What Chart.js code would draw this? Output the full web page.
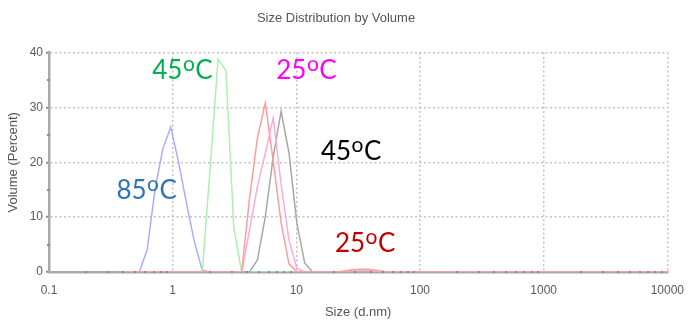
<!DOCTYPE html>
<html>
<head>
<meta charset="utf-8">
<title>Size Distribution by Volume</title>
<script src="https://cdn.jsdelivr.net/npm/chart.js@4/dist/chart.umd.min.js"></script>
<style>
  html, body { margin: 0; padding: 0; background: #fff; }
  #chart { display: block; }
</style>
</head>
<body>
<canvas id="chart" width="695" height="321"></canvas>
<script>
// size bins (d.nm), 70 log-spaced classes
var sizes = [
  0.4, 0.4632, 0.5365, 0.6213, 0.7195, 0.8332, 0.9649, 1.117, 1.294, 1.499,
  1.736, 2.01, 2.328, 2.696, 3.122, 3.615, 4.187, 4.849, 5.615, 6.503,
  7.531, 8.721, 10.1, 11.7, 13.54, 15.69, 18.17, 21.04, 24.36, 28.21,
  32.67, 37.84, 43.82, 50.75, 58.77, 68.06, 78.82, 91.28, 105.7, 122.4,
  141.8, 164.2, 190.1, 220.2, 255, 295.3, 342, 396.1, 458.7, 531.2,
  615.1, 712.4, 825, 955.4, 1106, 1281, 1484, 1718, 1990, 2305,
  2669, 3091, 3580, 4145, 4801, 5560, 6439, 7456, 8635, 10000
];

// volume (%) per bin
var red25 = [
  0, 0, 0, 0, 0, 0, 0, 0, 0, 0,
  0, 0, 0, 0, 0, 0, 13.5, 24.5, 30.8, 20.2,
  9, 1.5, 0, 0, 0, 0, 0, 0, 0.2, 0.4,
  0.5, 0.5, 0.3, 0.1, 0, 0, 0, 0, 0, 0,
  0, 0, 0, 0, 0, 0, 0, 0, 0, 0,
  0, 0, 0, 0, 0, 0, 0, 0, 0, 0,
  0, 0, 0, 0, 0, 0, 0, 0, 0, 0
];
var pink25 = [
  0, 0, 0, 0, 0, 0, 0, 0, 0, 0,
  0, 0, 0, 0, 0, 0, 7.7, 15.6, 21.7, 28.1,
  16, 5.8, 0.7, 0, 0, 0, 0, 0, 0.1, 0.3,
  0.4, 0.3, 0.2, 0.1, 0, 0, 0, 0, 0, 0,
  0, 0, 0, 0, 0, 0, 0, 0, 0, 0,
  0, 0, 0, 0, 0, 0, 0, 0, 0, 0,
  0, 0, 0, 0, 0, 0, 0, 0, 0, 0
];
var gray45 = [
  0, 0, 0, 0, 0, 0, 0, 0, 0, 0,
  0, 0, 0, 0, 0, 0, 0, 2.2, 10.1, 21,
  29.3, 21.7, 8.9, 1.6, 0, 0, 0, 0, 0, 0,
  0, 0, 0, 0, 0, 0, 0, 0, 0, 0,
  0, 0, 0, 0, 0, 0, 0, 0, 0, 0,
  0, 0, 0, 0, 0, 0, 0, 0, 0, 0,
  0, 0, 0, 0, 0, 0, 0, 0, 0, 0
];
var green45 = [
  0, 0, 0, 0, 0, 0, 0, 0, 0, 0,
  0, 19, 38.8, 36.7, 8, 0, 0, 0, 0, 0,
  0, 0, 0, 0, 0, 0, 0, 0, 0, 0.1,
  0.2, 0.2, 0.1, 0, 0, 0, 0, 0, 0, 0,
  0, 0, 0, 0, 0, 0, 0, 0, 0, 0,
  0, 0, 0, 0, 0, 0, 0, 0, 0, 0,
  0, 0, 0, 0, 0, 0, 0, 0, 0, 0
];
var blue85 = [
  0, 0, 0, 4, 15, 22.5, 26.4, 20, 12.5, 5.5,
  0.3, 0, 0, 0, 0, 0, 0, 0, 0, 0,
  0, 0, 0, 0, 0, 0, 0, 0, 0, 0,
  0, 0, 0, 0, 0, 0, 0, 0, 0, 0,
  0, 0, 0, 0, 0, 0, 0, 0, 0, 0,
  0, 0, 0, 0, 0, 0, 0, 0, 0, 0,
  0, 0, 0, 0, 0, 0, 0, 0, 0, 0
];

var xTicks = [0.1, 1, 10, 100, 1000, 10000];
var yTicks = [0, 10, 20, 30, 40];

// temperature labels: text, anchor (size, volume) at left/baseline, colour
var tempLabels = [
  { num: '45', x: 0.684, y: 35.1, color: '#00b050' },
  { num: '25', x: 6.88, y: 35.1, color: '#ff00ff' },
  { num: '45', x: 15.8, y: 20.5, color: '#000000' },
  { num: '85', x: 0.351, y: 13.3, color: '#2e75b6' },
  { num: '25', x: 20.5, y: 3.65, color: '#c00000' }
];

function toPoints(vals) {
  var pts = [];
  for (var i = 0; i < sizes.length; i++) {
    pts.push({ x: sizes[i], y: vals[i] });
  }
  return pts;
}

function line(vals, color) {
  return {
    data: toPoints(vals),
    borderColor: color,
    backgroundColor: color,
    borderWidth: 1.5,
    pointRadius: 0,
    tension: 0,
    fill: false
  };
}

// small minor tick marks on both axes
var minorTicks = {
  id: 'minorTicks',
  afterDatasetsDraw: function(chart) {
    var ctx = chart.ctx;
    var xs = chart.scales.x, ys = chart.scales.y;
    var area = chart.chartArea;
    ctx.save();
    ctx.fillStyle = '#8c8c8c';
    for (var d = 0; d < xTicks.length - 1; d++) {
      for (var k = 2; k <= 9; k++) {
        var px = xs.getPixelForValue(xTicks[d] * k);
        ctx.fillRect(Math.round(px) - 1, area.bottom - 1, 2, 2);
      }
    }
    for (var j = 0; j < yTicks.length - 1; j++) {
      var py = ys.getPixelForValue((yTicks[j] + yTicks[j + 1]) / 2);
      ctx.fillRect(area.left - 2, Math.round(py) - 1, 3, 2);
    }
    ctx.restore();
  }
};

// "45oC" style labels with raised o
var tempText = {
  id: 'tempText',
  afterDatasetsDraw: function(chart) {
    var ctx = chart.ctx;
    var xs = chart.scales.x, ys = chart.scales.y;
    var size = 26;
    ctx.save();
    ctx.textBaseline = 'alphabetic';
    ctx.textAlign = 'left';
    tempLabels.forEach(function(l) {
      var px = xs.getPixelForValue(l.x);
      var py = ys.getPixelForValue(l.y);
      ctx.fillStyle = l.color;
      ctx.font = size + 'px Lato, "Open Sans", sans-serif';
      ctx.fillText(l.num, px, py);
      px += ctx.measureText(l.num).width;
      ctx.font = Math.round(size * 0.8) + 'px Lato, "Open Sans", sans-serif';
      ctx.fillText('o', px + 0.5, py - 8);
      px += ctx.measureText('o').width + 1;
      ctx.font = size + 'px Lato, "Open Sans", sans-serif';
      ctx.fillText('C', px, py);
    });
    ctx.restore();
  }
};

Chart.defaults.font.family = "'Liberation Sans', Arial, sans-serif";
Chart.defaults.color = '#5a5a5a';

var ctx = document.getElementById('chart');
var chart = new Chart(ctx, {
  type: 'line',
  data: {
    datasets: [
      line(red25, '#ff9c9c'),
      line(pink25, '#ffaadc'),
      line(gray45, '#a8a8a8'),
      line(green45, '#aef0ae'),
      line(blue85, '#acacff')
    ]
  },
  options: {
    responsive: false,
    devicePixelRatio: 1,
    animation: false,
    layout: { padding: { left: 0, right: 23, top: 0, bottom: 0 } },
    plugins: {
      legend: { display: false },
      tooltip: { enabled: false },
      title: {
        display: true,
        text: 'Size Distribution by Volume',
        color: '#555',
        font: { size: 13, weight: 'normal' },
        padding: { top: 11, bottom: 26 }
      }
    },
    scales: {
      x: {
        type: 'logarithmic',
        min: 0.1,
        max: 10000,
        afterBuildTicks: function(scale) {
          scale.ticks = xTicks.map(function(v) { return { value: v }; });
        },
        afterFit: function(scale) { scale.height = 49; },
        ticks: {
          autoSkip: false,
          maxRotation: 0,
          padding: 11,
          font: { size: 12 },
          color: '#5a5a5a',
          callback: function(v) { return String(v); }
        },
        grid: {
          color: '#c4c4c4',
          lineWidth: 1.5,
          drawTicks: false
        },
        border: { color: '#aaaaaa', width: 2.5, dash: [2, 2.5] },
        title: {
          display: true,
          text: 'Size (d.nm)',
          color: '#555',
          font: { size: 13 },
          padding: { top: 0, bottom: 1 }
        }
      },
      y: {
        min: 0,
        max: 40,
        afterBuildTicks: function(scale) {
          scale.ticks = yTicks.map(function(v) { return { value: v }; });
        },
        afterFit: function(scale) { scale.width = 49; },
        ticks: {
          padding: 3,
          font: { size: 12 },
          color: '#5a5a5a'
        },
        grid: {
          color: '#c4c4c4',
          lineWidth: 1.5,
          drawTicks: true,
          tickLength: 3,
          tickColor: '#8c8c8c',
          tickWidth: 2
        },
        border: { color: '#aaaaaa', width: 2.5, dash: [2, 2.5] },
        title: {
          display: true,
          text: 'Volume (Percent)',
          color: '#555',
          font: { size: 13 },
          padding: { top: 6, bottom: 0 }
        }
      }
    }
  },
  plugins: [minorTicks, tempText]
});
</script>
</body>
</html>
